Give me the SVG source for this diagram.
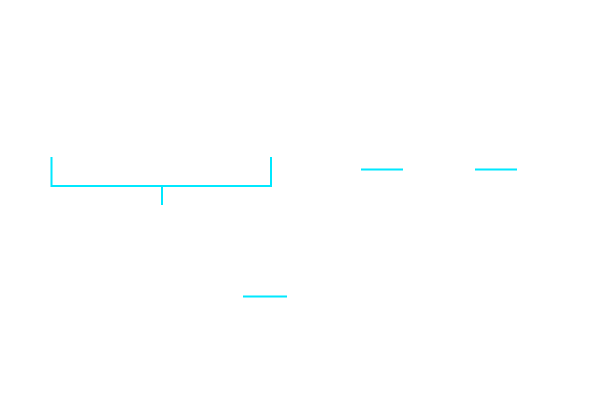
<svg xmlns="http://www.w3.org/2000/svg" width="600" height="401" viewBox="0 0 600 401">
<style>.c{fill:none;stroke:#00e8ff;stroke-width:2}</style>
<rect width="600" height="401" fill="#fff"/>
<g id="connectors">
<path class="c" d="M51.5,157V186H271V157M162,186V205"/>
<path class="c" d="M361,169.5H403"/>
<path class="c" d="M475,169.5H517"/>
<path class="c" d="M243,296.5H287"/>
</g>
</svg>
